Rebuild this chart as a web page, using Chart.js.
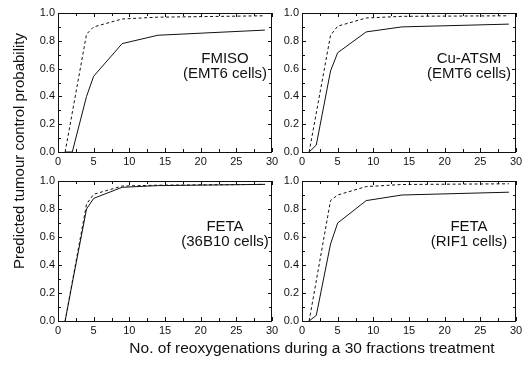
<!DOCTYPE html>
<html>
<head>
<meta charset="utf-8">
<script src="https://cdn.jsdelivr.net/npm/chart.js@4.4.1/dist/chart.umd.min.js"></script>
<style>
  html, body { margin: 0; padding: 0; background: #fff; }
  #wrap { position: relative; width: 526px; height: 366px; }
  #wrap canvas { position: absolute; left: 0; top: 0; }
</style>
</head>
<body>
<div id="wrap">
  <canvas id="c0" width="526" height="366"></canvas>
  <canvas id="c1" width="526" height="366"></canvas>
  <canvas id="c2" width="526" height="366"></canvas>
  <canvas id="c3" width="526" height="366"></canvas>
</div>
<script>
// x values (no. of reoxygenations)
const reoxSolid = [1, 2, 4, 5, 9, 14, 29];
const reoxDashed = [1, 4, 5, 9, 14, 29];

// tracer / cell line labels
const tracers = ['FMISO', 'Cu-ATSM', 'FETA', 'FETA'];
const cellLines = ['(EMT6 cells)', '(EMT6 cells)', '(36B10 cells)', '(RIF1 cells)'];

// solid curves
const fmisoSolid = [0, 0, 0.40, 0.545, 0.78, 0.84, 0.877];
const cuatsmSolid = [0, 0.05, 0.583, 0.714, 0.864, 0.90, 0.92];
const feta36Solid = [0, 0.27, 0.80, 0.876, 0.955, 0.967, 0.976];
const fetaRifSolid = [0, 0.04, 0.55, 0.70, 0.86, 0.90, 0.92];

// dashed curves
const fmisoDashed = [0, 0.848, 0.90, 0.957, 0.97, 0.98];
const cuatsmDashed = [0, 0.84, 0.905, 0.964, 0.976, 0.98];
const feta36Dashed = [0, 0.835, 0.905, 0.964, 0.97, 0.976];
const fetaRifDashed = [0, 0.86, 0.90, 0.96, 0.975, 0.98];

const xTicks = [0, 5, 10, 15, 20, 25, 30];
const yTicks = [0, 0.2, 0.4, 0.6, 0.8, 1.0];

const yTitle = 'Predicted tumour control probability';
const xTitle = 'No. of reoxygenations during a 30 fractions treatment';

const FONT = "'Liberation Sans', Arial, sans-serif";

// chart-area boxes for the 4 panels: [left, top, right, bottom]
const panels = [
    [58, 13, 272, 152],
    [302, 13, 516, 152],
    [58, 181, 272, 321],
    [302, 181, 516, 321]
];

const solids = [fmisoSolid, cuatsmSolid, feta36Solid, fetaRifSolid];
const dashes = [fmisoDashed, cuatsmDashed, feta36Dashed, fetaRifDashed];

const Y_AXIS_W = 30;
const X_AXIS_H = 20;

function toPoints(xs, ys) {
    return xs.map((x, i) => ({ x: x, y: ys[i] }));
}

// frame, inward ticks on all sides, and the panel labels
const framePlugin = {
    id: 'frame',
    afterDraw(chart, args, opts) {
        const ctx = chart.ctx;
        const a = chart.chartArea;
        const xs = chart.scales.x;
        const ys = chart.scales.y;
        ctx.save();
        ctx.strokeStyle = '#111';
        ctx.lineWidth = 1;
        ctx.strokeRect(a.left + 0.5, a.top + 0.5, a.right - a.left - 1, a.bottom - a.top);

        ctx.beginPath();
        for (let v = 0; v <= 30.001; v += 2.5) {
            const px = Math.round(xs.getPixelForValue(v)) + 0.5;
            const len = (v % 5 === 0) ? 4 : 3;
            ctx.moveTo(px, a.bottom); ctx.lineTo(px, a.bottom - len);
            ctx.moveTo(px, a.top); ctx.lineTo(px, a.top + len);
        }
        for (let i = 0; i <= 10; i++) {
            const py = Math.round(ys.getPixelForValue(i / 10)) + 0.5;
            const len = (i % 2 === 0) ? 4 : 3;
            ctx.moveTo(a.left, py); ctx.lineTo(a.left + len, py);
            ctx.moveTo(a.right, py); ctx.lineTo(a.right - len, py);
        }
        ctx.stroke();

        ctx.fillStyle = '#111';
        ctx.font = '15px ' + FONT;
        ctx.textAlign = 'center';
        ctx.textBaseline = 'middle';
        const cx = a.right - 47;
        ctx.fillText(opts.tracer, cx, a.top + 46);
        ctx.fillText(opts.cells, cx, a.top + 61);

        if (opts.titles) {
            ctx.font = '15.5px ' + FONT;
            ctx.fillText(xTitle, 312, 349);
            ctx.font = '15px ' + FONT;
            ctx.translate(20, 151);
            ctx.rotate(-Math.PI / 2);
            ctx.fillText(yTitle, 0, 0);
        }
        ctx.restore();
    }
};

panels.forEach((box, i) => {
    const [L, T, R, B] = box;
    new Chart(document.getElementById('c' + i), {
        type: 'line',
        data: {
            datasets: [
                {
                    label: 'solid',
                    data: toPoints(reoxSolid, solids[i]),
                    borderColor: '#111',
                    borderWidth: 1,
                    pointRadius: 0,
                    tension: 0,
                    fill: false
                },
                {
                    label: 'dashed',
                    data: toPoints(reoxDashed, dashes[i]),
                    borderColor: '#111',
                    borderWidth: 1,
                    borderDash: [3, 2.5],
                    pointRadius: 0,
                    tension: 0,
                    fill: false
                }
            ]
        },
        options: {
            responsive: false,
            animation: false,
            events: [],
            layout: {
                padding: { left: L - Y_AXIS_W, top: T, right: 526 - R, bottom: 366 - B - X_AXIS_H }
            },
            plugins: {
                legend: { display: false },
                tooltip: { enabled: false },
                frame: { tracer: tracers[i], cells: cellLines[i], titles: i === 0 }
            },
            scales: {
                x: {
                    type: 'linear',
                    min: 0,
                    max: 30,
                    grid: { display: false, drawTicks: false },
                    border: { display: false },
                    afterBuildTicks: s => { s.ticks = xTicks.map(v => ({ value: v })); },
                    ticks: { color: '#111', font: { family: FONT, size: 11 }, padding: 3, maxRotation: 0 },
                    afterFit: s => { s.height = X_AXIS_H; s.paddingLeft = 0; s.paddingRight = 0; }
                },
                y: {
                    min: 0,
                    max: 1,
                    grid: { display: false, drawTicks: false },
                    border: { display: false },
                    afterBuildTicks: s => { s.ticks = yTicks.map(v => ({ value: v })); },
                    ticks: { color: '#111', font: { family: FONT, size: 11 }, padding: 3, callback: v => v.toFixed(1) },
                    afterFit: s => { s.width = Y_AXIS_W; s.paddingTop = 0; s.paddingBottom = 0; }
                }
            }
        },
        plugins: [framePlugin]
    });
});
</script>
</body>
</html>
